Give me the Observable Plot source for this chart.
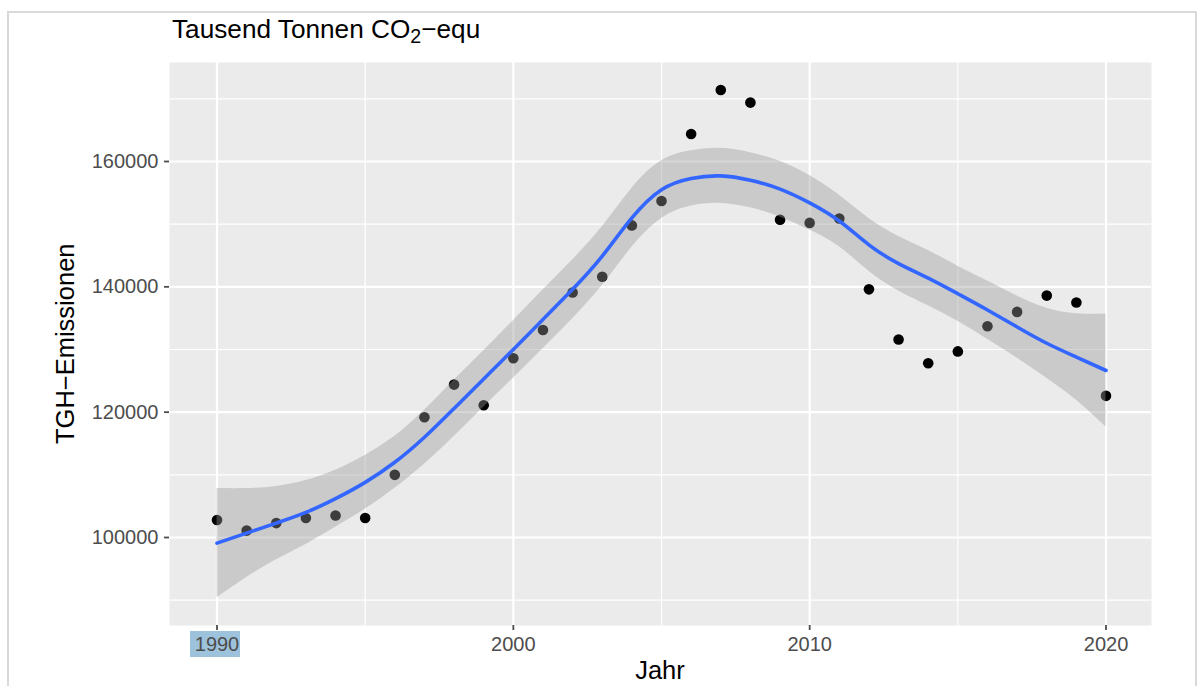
<!DOCTYPE html>
<html>
<head>
<meta charset="utf-8">
<script src="https://cdn.jsdelivr.net/npm/d3@7"></script>
<script src="https://cdn.jsdelivr.net/npm/@observablehq/plot@0.6"></script>
<style>
  html, body { margin: 0; padding: 0; background: #ffffff; }
  #wrap { position: relative; width: 1200px; height: 686px; overflow: hidden; font-family: "Liberation Sans", Arial, sans-serif; }
  #border { position: absolute; left: 7px; top: 11px; width: 1190px; height: 720px; border: 2px solid #d9d9d9; box-sizing: border-box; }
  #hl { position: absolute; left: 190px; top: 631px; width: 50px; height: 26px; background: #9dc3dc; }
  #chart { position: absolute; left: 0; top: 0; }
  .txt { position: absolute; color: #000; font-size: 25.5px; line-height: 1; white-space: nowrap; }
  #title { left: 172px; top: 16px; font-size: 26.2px; }
  #title sub { font-size: 0.75em; vertical-align: -0.25em; line-height: 0; }
  #xlab { left: 460px; width: 400px; text-align: center; top: 658px; }
  #ylab { left: -134px; width: 400px; text-align: center; top: 330.75px; transform: rotate(-90deg); transform-origin: 200px 12.75px; }
</style>
</head>
<body>
<div id="wrap">
  <div id="border"></div>
  <div id="hl"></div>
  <div id="chart"></div>
  <div id="title" class="txt">Tausend Tonnen CO<sub>2</sub>−equ</div>
  <div id="xlab" class="txt">Jahr</div>
  <div id="ylab" class="txt">TGH−Emissionen</div>
</div>
<script>
// ---- data ----
const years = [1990,1991,1992,1993,1994,1995,1996,1997,1998,1999,2000,2001,2002,2003,2004,2005,2006,2007,2008,2009,2010,2011,2012,2013,2014,2015,2016,2017,2018,2019,2020];
const emissions = [102800,101100,102300,103100,103500,103100,110000,119200,124400,121100,128600,133100,139100,141600,149800,153700,164400,171400,169400,150700,150200,150900,139600,131600,127800,129700,133700,136000,138600,137500,122600];
const smoothFit = [99100,100700,102300,104000,106200,108800,112000,116000,120600,125300,130000,134800,139600,144900,151000,155500,157300,157700,157000,155600,153400,150500,146700,143700,141400,138900,136300,133600,131000,128800,126650];
const smoothLower = [90400,93600,96450,98900,101650,104500,107850,111700,116100,120800,125400,130100,134900,140200,146300,150900,152900,153300,152600,151150,149050,146400,142500,139350,137000,134500,131650,128650,125400,121900,117650];
const smoothUpper = [107800,107800,108150,109100,110750,113100,116150,120300,125100,129800,134600,139500,144300,149600,155700,160100,161700,162100,161400,160050,157750,154600,150900,148050,145800,143300,140950,138550,136600,135700,135650];
const xMajor = [1990, 2000, 2010, 2020];
const xMinor = [1995, 2005, 2015];
const yMajor = [100000, 120000, 140000, 160000];
const yMinor = [90000, 110000, 130000, 150000, 170000];

const rows = years.map((year, i) => ({
  year, value: emissions[i], fit: smoothFit[i], lo: smoothLower[i], hi: smoothUpper[i]
}));

const chart = Plot.plot({
  width: 1200,
  height: 686,
  marginLeft: 169,
  marginRight: 49,
  marginTop: 62,
  marginBottom: 61,
  style: { background: "transparent", fontFamily: "'Liberation Sans', Arial, sans-serif", fontSize: "20px" },
  x: { domain: [1988.397, 2021.535] },
  y: { domain: [85957, 175798] },
  marks: [
    Plot.frame({ fill: "#ebebeb", stroke: null }),
    Plot.ruleX(xMinor, { stroke: "#ffffff", strokeWidth: 1.2 }),
    Plot.ruleY(yMinor, { stroke: "#ffffff", strokeWidth: 1.2 }),
    Plot.ruleX(xMajor, { stroke: "#ffffff", strokeWidth: 2.2 }),
    Plot.ruleY(yMajor, { stroke: "#ffffff", strokeWidth: 2.2 }),
    Plot.axisX(xMajor, { tickFormat: d => String(d), tickSize: 5, tickPadding: 6, label: null, color: "#4d4d4d", fontSize: 20, strokeWidth: 1.8 }),
    Plot.axisY(yMajor, { tickFormat: d => String(d), tickSize: 5, tickPadding: 6, label: null, color: "#4d4d4d", fontSize: 20, strokeWidth: 1.8 }),
    Plot.dot(rows, { x: "year", y: "value", r: 5.3, fill: "#000000", stroke: null }),
    Plot.areaY(rows, { x: "year", y1: "lo", y2: "hi", fill: "#999999", fillOpacity: 0.4, curve: "natural" }),
    Plot.line(rows, { x: "year", y: "fit", stroke: "#3366ff", strokeWidth: 3.6, curve: "natural" })
  ]
});
document.getElementById("chart").appendChild(chart);
</script>
</body>
</html>
